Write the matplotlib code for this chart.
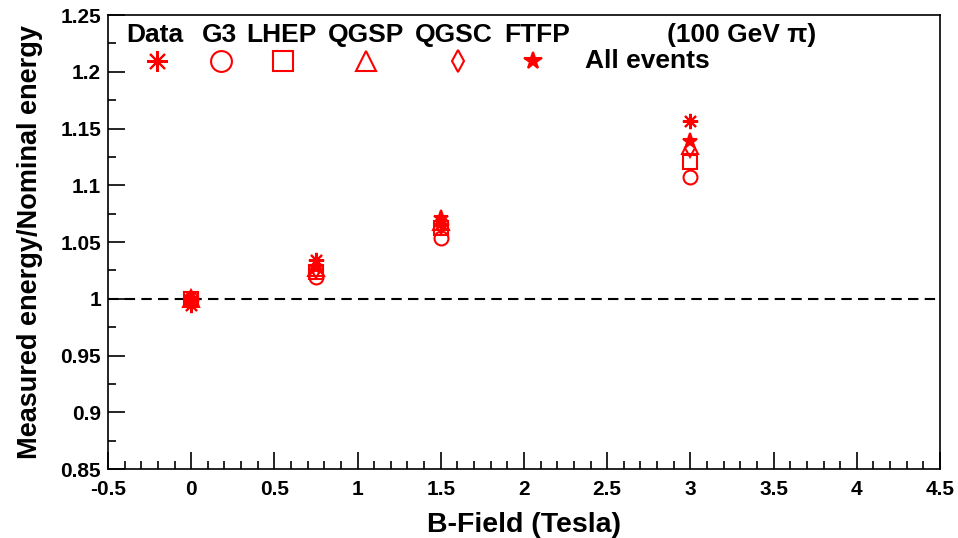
import numpy as np
import matplotlib
matplotlib.use('Agg')
import matplotlib.pyplot as plt
from matplotlib.ticker import MultipleLocator

plt.rcParams['font.family'] = ['Liberation Sans', 'DejaVu Sans']
plt.rcParams['font.weight'] = 'bold'

field = [0, 0.75, 1.5, 3]
data = [0.995, 1.034, 1.066, 1.157]
g3 = [1.000, 1.019, 1.054, 1.107]
lhep = [1.000, 1.024, 1.062, 1.121]
qgsp = [1.000, 1.027, 1.068, 1.135]
qgsc = [1.000, 1.026, 1.065, 1.133]
ftfp = [1.000, 1.028, 1.071, 1.139]

names = ['Data', 'G3', 'LHEP', 'QGSP', 'QGSC', 'FTFP']
series = [data, g3, lhep, qgsp, qgsc, ftfp]
markers = [(8, 2, 0), 'o', 's', '^', 'd', '*']
filled = [True, False, False, False, False, True]
sizes = [11, 10, 10, 11, 9, 11]
leg_sizes = [15, 15, 15, 15, 11, 13]
name_x = [-0.219, 0.170, 0.540, 1.050, 1.579, 2.078]
mark_x = [-0.206, 0.179, 0.552, 1.050, 1.603, 2.054]

red = '#ff0000'

fig = plt.figure(figsize=(9.58, 5.38), dpi=100)
ax = fig.add_axes([0.1127, 0.128, 0.8685, 0.844])

ax.axhline(1.0, color='black', ls=(0, (5, 3)), lw=1.5, zorder=1)

for vals, m, f, ms in zip(series, markers, filled, sizes):
    ax.plot(field, vals, ls='none', marker=m, ms=ms, mew=1.5,
            mec=red, mfc=red if f else 'none', zorder=3)

# legend row drawn by hand, ROOT style
for nm, x in zip(names, name_x):
    ax.text(x, 1.232, nm, ha='center', va='center', fontsize=19, fontweight='bold')
for x, m, f, ms in zip(mark_x, markers, filled, leg_sizes):
    ax.plot([x], [1.2095], ls='none', marker=m, ms=ms, mew=1.5,
            mec=red, mfc=red if f else 'none', clip_on=False)
ax.text(3.31, 1.232, '(100 GeV \u03c0)', ha='center', va='center', fontsize=19, fontweight='bold')
ax.text(2.74, 1.2095, 'All events', ha='center', va='center', fontsize=19, fontweight='bold')

ax.set_xlim(-0.5, 4.5)
ax.set_ylim(0.85, 1.25)
ax.xaxis.set_minor_locator(MultipleLocator(0.1))
ax.yaxis.set_minor_locator(MultipleLocator(0.025))
ax.set_xticks(np.arange(-0.5, 4.51, 0.5))
ax.set_xticklabels(['-0.5', '0', '0.5', '1', '1.5', '2', '2.5', '3', '3.5', '4', '4.5'])
ax.set_yticks(np.arange(0.85, 1.2501, 0.05))
ax.set_yticklabels(['0.85', '0.9', '0.95', '1', '1.05', '1.1', '1.15', '1.2', '1.25'])
ax.tick_params(which='both', direction='in', top=False, right=False, width=1.2,
               labelsize=15)
ax.tick_params(which='major', length=12)
ax.tick_params(which='minor', length=6)
ax.tick_params(axis='x', pad=8)
ax.tick_params(axis='y', pad=5)
for lab in ax.get_xticklabels() + ax.get_yticklabels():
    lab.set_fontweight('bold')
for s in ax.spines.values():
    s.set_linewidth(1.2)

ax.set_xlabel('B-Field (Tesla)', fontsize=20.5, fontweight='bold', labelpad=9)
ax.set_ylabel('Measured energy/Nominal energy', fontsize=19.5, fontweight='bold', labelpad=12)

fig.savefig('out.png', dpi=100)
